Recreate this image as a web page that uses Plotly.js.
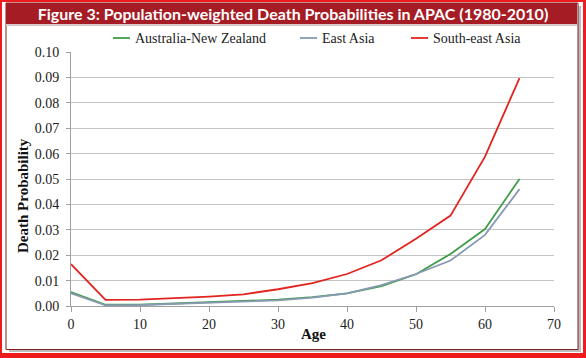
<!DOCTYPE html>
<html>
<head>
<meta charset="utf-8">
<script src="https://cdn.plot.ly/plotly-3.0.1.min.js"></script>
<style>
html,body{margin:0;padding:0;background:#fff;}
#chart{width:586px;height:358px;}
</style>
</head>
<body>
<div id="chart"></div>
<script>
var ages = [0, 5, 10, 15, 20, 25, 30, 35, 40, 45, 50, 55, 60, 65];
var seriesNames = ["Australia-New Zealand", "East Asia", "South-east Asia"];
var seriesColors = ["#3f9e47", "#8799b3", "#e2241f"];
var ausNz = [0.0055, 0.0005, 0.0005, 0.0010, 0.0015, 0.0018, 0.0025, 0.0035, 0.0050, 0.0078, 0.0125, 0.0205, 0.0303, 0.0500];
var eastAsia = [0.0050, 0.0003, 0.0004, 0.0008, 0.0012, 0.0016, 0.0022, 0.0033, 0.0050, 0.0082, 0.0126, 0.0179, 0.0280, 0.0460];
var seAsia = [0.0165, 0.0024, 0.0025, 0.0030, 0.0037, 0.0046, 0.0066, 0.0090, 0.0126, 0.0180, 0.0265, 0.0356, 0.0588, 0.0897];
var yTicks = [0, 0.01, 0.02, 0.03, 0.04, 0.05, 0.06, 0.07, 0.08, 0.09, 0.10];
var yTickText = ["0.00","0.01","0.02","0.03","0.04","0.05","0.06","0.07","0.08","0.09","0.10"];
var xTicks = [0, 10, 20, 30, 40, 50, 60, 70];

var W = 586, H = 358;
var L = 71, R = 554, T = 52, B = 306;
function xp(px){ return (px - L) / (R - L); }
function yp(py){ return (B - py) / (B - T); }
function rect(x0, y0, x1, y1, fill, lineColor, lw){
  return {type:'rect', xref:'paper', yref:'paper', layer:'below',
    x0:xp(x0), x1:xp(x1), y0:yp(y1), y1:yp(y0),
    fillcolor:fill, line:{color:lineColor || fill, width:lw || 0}};
}

var serif = '"Liberation Serif", "Times New Roman", serif';
var allY = [ausNz, eastAsia, seAsia];
var traces = allY.map(function(ys, i){
  return {x:ages, y:ys, name:seriesNames[i], type:'scatter', mode:'lines',
    line:{color:seriesColors[i], width:1.8}, showlegend:false};
});

// custom legend (line sample + label) matching the reference spacing
var legendLineX = [113, 300, 411];
var legendY = 38;
var shapes = [
  rect(0, 0, W, H, '#ee1c1c'),
  rect(2, 2, 583, 353, '#ffffff'),
  rect(9, 6, 581, 352, '#bdbdbd'),
  rect(6, 3, 578, 349.5, '#ffffff', '#7e1f1f', 1),
  rect(6, 3, 577, 24, '#a51c24'),
  rect(6, 24, 577, 26, '#d8c8c8')
];
var annotations = [
  {text:'<b>Death Probability</b>', xref:'paper', yref:'paper', x:xp(23), y:yp(196),
   xanchor:'center', yanchor:'middle', textangle:-90, showarrow:false,
   font:{family:serif, size:15, color:'#111'}},
  {text:'<b>Age</b>', xref:'paper', yref:'paper', x:xp(313), y:yp(334),
   xanchor:'center', yanchor:'middle', showarrow:false,
   font:{family:serif, size:15, color:'#111'}}
];
seriesNames.forEach(function(n, i){
  var lx = legendLineX[i];
  shapes.push({type:'line', xref:'paper', yref:'paper', x0:xp(lx), x1:xp(lx+17),
    y0:yp(legendY), y1:yp(legendY), line:{color:seriesColors[i], width:1.8}});
  annotations.push({text:n, xref:'paper', yref:'paper', x:xp(lx+20), y:yp(legendY),
    xanchor:'left', yanchor:'middle', showarrow:false,
    font:{family:serif, size:14, color:'#222'}});
});

var layout = {
  width:W, height:H,
  margin:{l:L, r:W-R, t:T, b:H-B, pad:0},
  paper_bgcolor:'#ffffff', plot_bgcolor:'rgba(0,0,0,0)',
  title:{text:'<b>Figure 3: Population-weighted Death Probabilities in APAC (1980-2010)</b>',
    font:{family:'Lato, "Open Sans", sans-serif', size:16, color:'#ffffff'},
    xref:'container', x:0.5, xanchor:'center', yref:'container', y:1-14/H, yanchor:'middle'},
  showlegend:false,
  xaxis:{range:[0,70], tickvals:xTicks, ticks:'outside', ticklen:5, tickcolor:'#a0a0a0',
    showline:true, linecolor:'#a0a0a0', linewidth:1, showgrid:false, zeroline:false,
    tickfont:{family:serif, size:14, color:'#222'}},
  yaxis:{range:[0,0.10], tickvals:yTicks, ticktext:yTickText, ticks:'outside', ticklen:4, tickcolor:'#a0a0a0',
    showline:true, linecolor:'#a0a0a0', linewidth:1, showgrid:true, gridcolor:'#c4c4c4', gridwidth:1,
    zeroline:false, tickfont:{family:serif, size:14, color:'#222'}, ticklabelstandoff:4},
  annotations:annotations,
  shapes:shapes
};

Plotly.newPlot('chart', traces, layout, {displayModeBar:false, staticPlot:true});
</script>
</body>
</html>
